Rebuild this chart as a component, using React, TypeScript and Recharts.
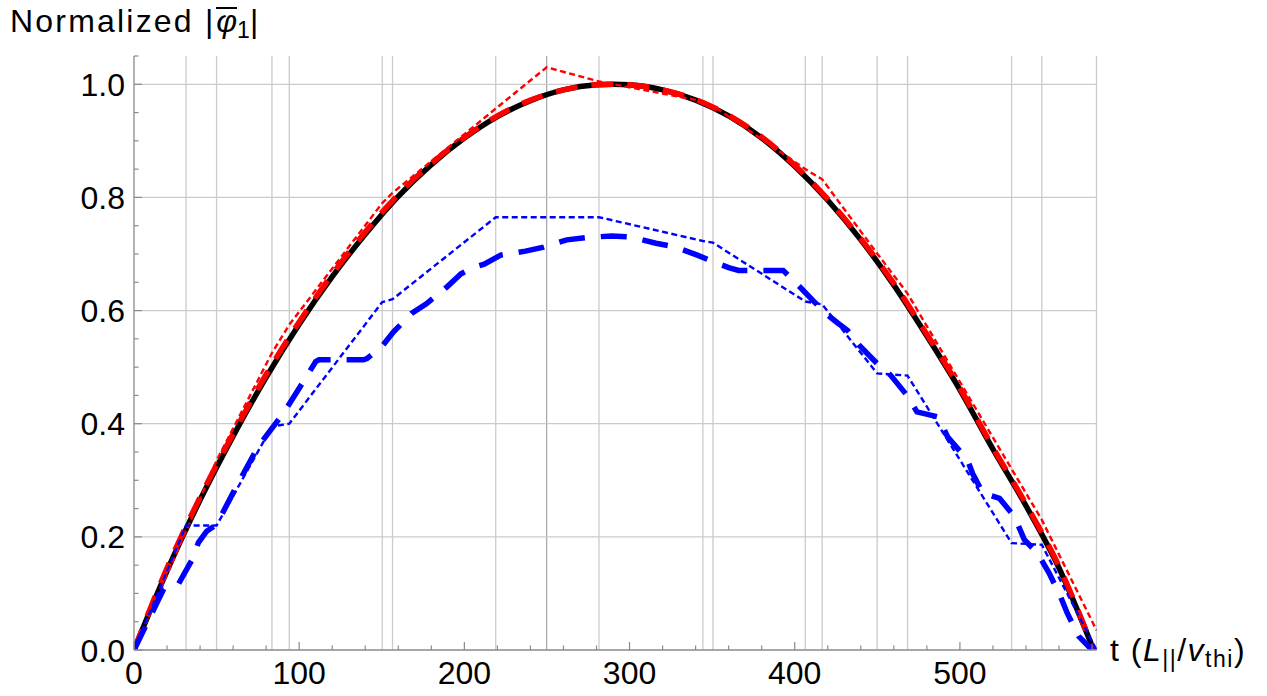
import { LineChart, Line, XAxis, YAxis, ReferenceLine } from "recharts";

// black solid curve (smooth)
const blackT = [0, 20, 40, 60, 80, 100, 120, 140, 160, 180, 200, 220, 240, 260, 280, 290, 300, 320, 340, 360, 380, 400, 420, 440, 460, 480, 500, 520, 540, 560, 581];
const blackV = [0, 0.14, 0.265, 0.378, 0.482, 0.576, 0.66, 0.735, 0.802, 0.858, 0.905, 0.943, 0.971, 0.99, 0.999, 1.0, 0.999, 0.99, 0.972, 0.944, 0.905, 0.855, 0.795, 0.725, 0.645, 0.555, 0.46, 0.355, 0.255, 0.145, 0];

// red thick dashed, almost on top of the black one
const redDashV = [0, 0.145, 0.27, 0.382, 0.487, 0.58, 0.664, 0.739, 0.805, 0.86, 0.906, 0.944, 0.972, 0.99, 0.999, 1.0, 0.999, 0.99, 0.973, 0.945, 0.907, 0.857, 0.797, 0.727, 0.648, 0.558, 0.463, 0.358, 0.258, 0.148, 0];

// red thin dotted (piecewise)
const redDotT = [0, 31.5, 50, 83.5, 94, 150.3, 156.5, 219, 249.8, 281.5, 344.4, 350.5, 406.4, 416.6, 449.9, 468.3, 531.3, 549.6, 582.7];
const redDotV = [0, 0.21, 0.335, 0.525, 0.575, 0.79, 0.808, 0.957, 1.03, 1.005, 0.97, 0.962, 0.85, 0.832, 0.701, 0.63, 0.32, 0.23, 0.035];

// blue thin dotted (piecewise)
const blueDotT = [0, 31.5, 50, 83.5, 94, 150.3, 156.5, 219, 281.5, 344.4, 350.5, 406.4, 416.6, 449.9, 468.3, 531.3, 549.6, 582.7];
const blueDotV = [0, 0.22, 0.22, 0.395, 0.4, 0.615, 0.62, 0.765, 0.765, 0.723, 0.72, 0.616, 0.611, 0.489, 0.485, 0.189, 0.186, 0];

// blue thick dashed
const blueDashT = [0, 18, 27, 35, 39, 44, 50, 62, 75, 91, 105, 110, 112, 139, 141, 150, 157, 168, 177, 189.5, 198, 205, 212, 222, 237, 248, 262, 274, 289, 301, 316, 327, 341, 351, 360, 366, 393, 401, 412, 420, 426, 432, 439, 450, 458, 468, 474, 487, 492.5, 504.6, 507.7, 514, 524, 533, 539, 547, 554, 561, 565, 572, 580];
const blueDashV = [0, 0.108, 0.117, 0.159, 0.19, 0.21, 0.222, 0.289, 0.359, 0.421, 0.486, 0.51, 0.513, 0.513, 0.515, 0.536, 0.562, 0.595, 0.612, 0.642, 0.665, 0.676, 0.682, 0.698, 0.705, 0.712, 0.725, 0.729, 0.732, 0.73, 0.719, 0.713, 0.698, 0.686, 0.676, 0.671, 0.671, 0.648, 0.615, 0.592, 0.578, 0.565, 0.539, 0.506, 0.486, 0.45, 0.421, 0.412, 0.377, 0.336, 0.312, 0.277, 0.268, 0.236, 0.195, 0.171, 0.136, 0.094, 0.065, 0.024, 0];

// vertical grid lines at the output times
const gridT = [31.5, 50, 83.5, 94, 150.3, 156.5, 219, 281.5, 344.4, 350.5, 406.4, 416.6, 449.9, 468.3, 531.3, 549.6, 582.7];
const gridDarkT = [249.8];
const gridV = [0.2, 0.4, 0.6, 0.8, 1.0];

const xTicks = [0, 20, 40, 60, 80, 100, 120, 140, 160, 180, 200, 220, 240, 260, 280, 300, 320, 340, 360, 380, 400, 420, 440, 460, 480, 500, 520, 540, 560, 580];
const yTicks = [0, 0.05, 0.1, 0.15, 0.2, 0.25, 0.3, 0.35, 0.4, 0.45, 0.5, 0.55, 0.6, 0.65, 0.7, 0.75, 0.8, 0.85, 0.9, 0.95, 1.0, 1.05];

const toPts = (ts: number[], vs: number[]) => ts.map((t, i) => ({ t, v: vs[i] }));

const FONT = "'Liberation Sans', Arial, Helvetica, sans-serif";
const AXIS = "#8a8a8a";
const GRID = "#cbcbcb";

const XTick = (props: any) => {
  const { x, y, payload } = props;
  const v = payload.value;
  const major = v % 100 === 0;
  return (
    <g>
      <line x1={x} x2={x} y1={y} y2={y - (major ? 8 : 4.5)} stroke={AXIS} strokeWidth={1.2} />
      {major && (
        <text x={x} y={y + 34} textAnchor="middle" fontSize={32} fontFamily={FONT} fill="#000">
          {v}
        </text>
      )}
    </g>
  );
};

const YTick = (props: any) => {
  const { x, y, payload } = props;
  const v = payload.value;
  const major = Math.abs(v * 5 - Math.round(v * 5)) < 1e-6;
  return (
    <g>
      <line x1={x} x2={x + (major ? 8 : 4.5)} y1={y} y2={y} stroke={AXIS} strokeWidth={1.2} />
      {major && (
        <text x={x - 9} y={y} dy="0.36em" textAnchor="end" fontSize={32} fontFamily={FONT} fill="#000">
          {v.toFixed(1)}
        </text>
      )}
    </g>
  );
};

const sub = { fontSize: 23, position: "relative" as const, top: 6 };

export default function App() {
  return (
    <div style={{ position: "absolute", left: 0, top: 0, width: 1267, height: 696, background: "#fff" }}>
      <LineChart width={1267} height={696} margin={{ top: 56, right: 170, bottom: 0, left: 0 }}>
        <XAxis
          type="number"
          dataKey="t"
          domain={[0, 583]}
          ticks={xTicks}
          interval={0}
          allowDataOverflow
          tickLine={false}
          tickSize={0}
          tickMargin={0}
          tick={<XTick />}
          axisLine={{ stroke: AXIS, strokeWidth: 1.3 }}
          height={46}
        />
        <YAxis
          type="number"
          dataKey="v"
          domain={[0, 1.05]}
          ticks={yTicks}
          interval={0}
          allowDataOverflow
          tickLine={false}
          tickSize={0}
          tickMargin={0}
          tick={<YTick />}
          axisLine={{ stroke: AXIS, strokeWidth: 1.3 }}
          width={134}
        />
        {gridT.map((t) => (
          <ReferenceLine key={"gx" + t} x={t} stroke={GRID} strokeWidth={1.3} />
        ))}
        {gridDarkT.map((t) => (
          <ReferenceLine key={"gd" + t} x={t} stroke="#aaaaaa" strokeWidth={1.3} />
        ))}
        {gridV.map((v) => (
          <ReferenceLine key={"gy" + v} y={v} stroke={GRID} strokeWidth={1.3} />
        ))}
        <Line data={toPts(blackT, blackV)} dataKey="v" type="monotone" stroke="#000" strokeWidth={5.5} dot={false} isAnimationActive={false} />
        <Line data={toPts(blackT, redDashV)} dataKey="v" type="monotone" stroke="#ff0000" strokeWidth={5.5} strokeDasharray="22 14" dot={false} isAnimationActive={false} />
        <Line data={toPts(redDotT, redDotV)} dataKey="v" type="linear" stroke="#ff0000" strokeWidth={2.4} strokeDasharray="6 3.5" dot={false} isAnimationActive={false} />
        <Line data={toPts(blueDashT, blueDashV)} dataKey="v" type="linear" stroke="#0000ff" strokeWidth={5.5} strokeDasharray="26 16" dot={false} isAnimationActive={false} />
        <Line data={toPts(blueDotT, blueDotV)} dataKey="v" type="linear" stroke="#0000ff" strokeWidth={2.4} strokeDasharray="6 3.5" dot={false} isAnimationActive={false} />
      </LineChart>
      <div style={{ position: "absolute", left: 10, top: 5, fontFamily: FONT, fontSize: 32, lineHeight: "32px", whiteSpace: "nowrap", color: "#000" }}>
        <span style={{ letterSpacing: 2.2 }}>Normalized </span>|
        <span style={{ display: "inline-block", fontStyle: "italic", lineHeight: "24px", borderTop: "2.5px solid #000", marginLeft: 3, paddingTop: 0 }}>φ</span>
        <span style={sub}>1</span>|
      </div>
      <div style={{ position: "absolute", left: 1110, top: 634, fontFamily: FONT, fontSize: 32, lineHeight: "32px", whiteSpace: "nowrap", color: "#000", letterSpacing: 1.5 }}>
        t (<span style={{ fontStyle: "italic" }}>L</span>
        <span style={sub}>||</span>/<span style={{ fontStyle: "italic" }}>v</span>
        <span style={sub}>thi</span>)
      </div>
    </div>
  );
}
